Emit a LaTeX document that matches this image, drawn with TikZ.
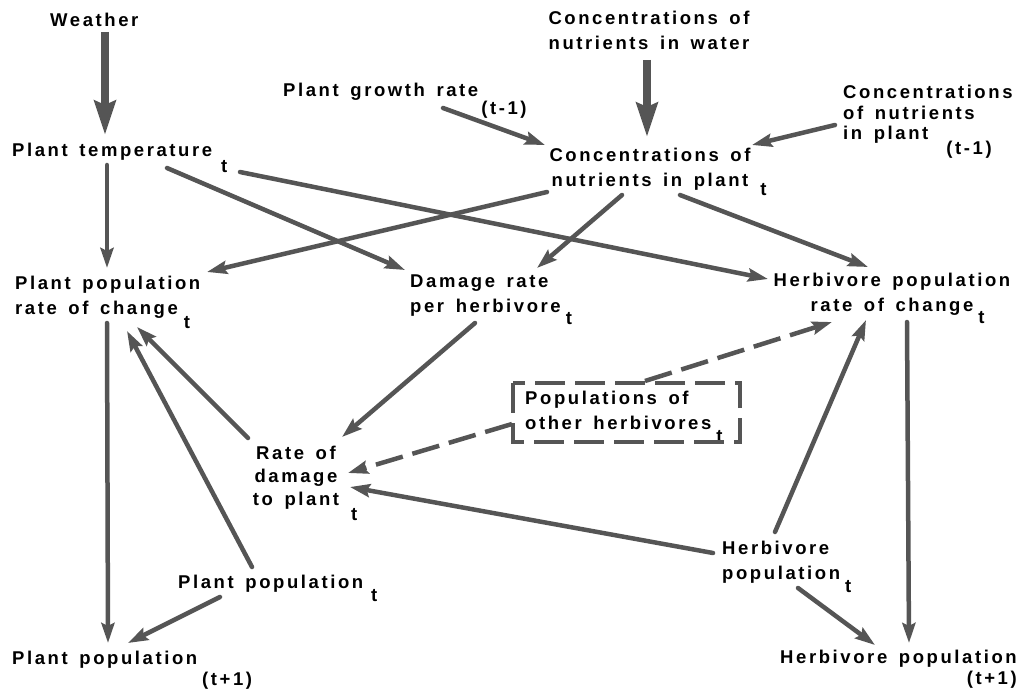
\documentclass[tikz,border=0pt]{standalone}
\usepackage{fontspec}
\setmainfont{Liberation Sans}[LetterSpace=14, WordSpace=1.5]
\usetikzlibrary{arrows.meta}
\newcommand\lbl{\fontsize{18.5}{24.5}\selectfont\bfseries}
\newcommand\tsub[2][13pt]{\rlap{\hspace{#2}\raisebox{-#1}{t}}}
\definecolor{arrgray}{HTML}{555555}
\begin{document}
\begin{tikzpicture}[x=1pt,y=-1pt,
  lab/.style={inner sep=0pt, font=\lbl, anchor=north west, text=black},
  arr/.style={draw=arrgray, line width=4.5pt, line cap=round, -{Stealth[length=20pt,width=13pt,inset=3pt]}},
  thickarr/.style={draw=arrgray, line width=8pt, -{Stealth[length=34pt,width=21pt,inset=4pt]}},
  darr/.style={arr, line cap=butt, dash pattern=on 28pt off 10pt},
  boxd/.style={draw=arrgray, line width=4.5pt, dash pattern=on 30pt off 10pt}]
\useasboundingbox (0,0) rectangle (1031,690);
% nodes
\node[lab] (weather) at (50,13) {Weather};
\node[lab,anchor=north,align=center] (water) at (649,11) {Concentrations of\\nutrients in water};
\node[lab] (growth) at (283,83) {Plant growth rate\rlap{\hspace{3pt}\raisebox{-18pt}{(t-1)}}};
\node[lab,align=left] (cpold) at (843,85) {Concentrations\\[-4pt]of nutrients\\[-4pt]in plant\rlap{\hspace{18pt}\raisebox{-15pt}{(t-1)}}};
\node[lab,anchor=north,align=center] (cpt) at (650,148) {Concentrations of\\nutrients in plant\tsub[9pt]{12pt}};
\node[lab] (ptemp) at (12,143) {Plant temperature\tsub[16pt]{9pt}};
\node[lab,align=left] (pprate) at (15,276) {Plant population\\rate of change\tsub[14pt]{6pt}};
\node[lab,align=left] (dmg) at (410,275) {Damage rate\\per herbivore\tsub[12pt]{5pt}};
\node[lab,anchor=north,align=center] (hrate) at (892,273) {Herbivore population\\rate of change\tsub[12pt]{5pt}};
\node[lab,align=left] (others) at (525,391) {Populations of\\other herbivores\tsub[13pt]{5pt}};
\node[lab,anchor=north,align=center] (rod) at (296,446) {Rate of\\[-1.5pt]damage\\[-1.5pt]to plant\tsub[15pt]{12pt}};
\node[lab] (ppt) at (178,575) {Plant population\tsub[13pt]{8pt}};
\node[lab,align=left] (hpt) at (722,541) {Herbivore\\population\tsub[13pt]{5pt}};
\node[lab] (pp1) at (12,651) {Plant population\rlap{\hspace{5pt}\raisebox{-21pt}{(t+1)}}};
\node[lab] (hp1) at (780,650) {Herbivore population\llap{\raisebox{-21pt}{(t+1)}}};
% box
\draw[boxd] ([shift={(-12,-8)}]others.north west) rectangle ([shift={(215,51)}]others.north west);
% connectors
\draw[thickarr] ([shift={(55,19)}]weather.north west) -- ([shift={(93,-8)}]ptemp.north west);
\draw[thickarr] ([shift={(-2,49)}]water.north) -- ([shift={(-3,-11)}]cpt.north);
\draw[arr] ([shift={(160,25)}]growth.north west) -- ([shift={(-105,-3)}]cpt.north);
\draw[arr] ([shift={(-8,40)}]cpold.north west) -- ([shift={(102,-3)}]cpt.north);
\draw[arr] ([shift={(95,22)}]ptemp.north west) -- ([shift={(92,-8)}]pprate.north west);
\draw[arr] ([shift={(155,25)}]ptemp.north west) -- ([shift={(-5,-5)}]dmg.north west);
\draw[arr] ([shift={(228,29)}]ptemp.north west) -- ([shift={(-124,6)}]hrate.north);
\draw[arr] ([shift={(-103,44)}]cpt.north) -- ([shift={(192,-4)}]pprate.north west);
\draw[arr] ([shift={(-28,47)}]cpt.north) -- ([shift={(127,-7)}]dmg.north west);
\draw[arr] ([shift={(30,47)}]cpt.north) -- ([shift={(-24,-6)}]hrate.north);
\draw[arr] ([shift={(92,47)}]pprate.north west) -- ([shift={(96,-8)}]pp1.north west);
\draw[arr] ([shift={(65,48)}]dmg.north west) -- ([shift={(46,-9)}]rod.north);
\draw[arr] ([shift={(-48,-8)}]rod.north) -- ([shift={(122,51)}]pprate.north west);
\draw[arr] ([shift={(74,-8)}]ppt.north west) -- ([shift={(112,55)}]pprate.north west);
\draw[arr] ([shift={(42,22)}]ppt.north west) -- ([shift={(116,-8)}]pp1.north west);
\draw[darr] ([shift={(-13,33)}]others.north west) -- ([shift={(52,27)}]rod.north);
\draw[darr] ([shift={(120,-10)}]others.north west) -- ([shift={(-60,49)}]hrate.north);
\draw[arr] ([shift={(-9,12)}]hpt.north west) -- ([shift={(54,41)}]rod.north);
\draw[arr] ([shift={(53,-9)}]hpt.north west) -- ([shift={(-26,47)}]hrate.north);
\draw[arr] ([shift={(15,49)}]hrate.north) -- ([shift={(129,-7)}]hp1.north west);
\draw[arr] ([shift={(76,47)}]hpt.north west) -- ([shift={(95,-5)}]hp1.north west);
\end{tikzpicture}
\end{document}
